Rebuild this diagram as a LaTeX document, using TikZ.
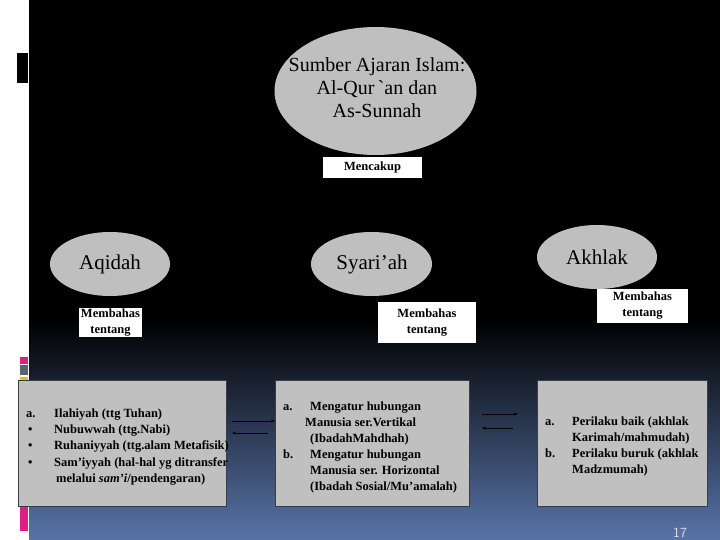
\documentclass[tikz,border=0pt]{standalone}
\usepackage{fontspec}
\setmainfont{Liberation Serif}
\usetikzlibrary{shapes.geometric,arrows.meta}
\definecolor{bluebot}{RGB}{88,116,168}
\definecolor{elgray}{RGB}{191,191,191}
\definecolor{boxgray}{RGB}{192,192,192}
\definecolor{mag}{RGB}{222,30,128}
\definecolor{slate}{RGB}{92,98,112}
\definecolor{gold}{RGB}{232,182,44}
\tikzset{
  oval/.style={ellipse,fill=elgray,draw=none,inner sep=0pt},
  ovaltext/.style={inner sep=0pt,align=center,font=\fontsize{21}{23}\selectfont},
  tag/.style={fill=white,draw=none,inner sep=0pt},
  tagtext/.style={inner sep=0pt,align=center,font=\bfseries\fontsize{12.5}{16}\selectfont},
  panel/.style={fill=boxgray,draw={rgb,255:red,60;green,60;blue,70},line width=0.8pt,inner sep=0pt},
  itm/.style={anchor=base west,inner sep=0pt,font=\bfseries\fontsize{12.5}{14}\selectfont},
  link/.style={-{Stealth[length=4pt,width=3pt]},line width=0.6pt,black}
}
\begin{document}
\begin{tikzpicture}[x=1pt,y=-1pt]
\useasboundingbox (0,0) rectangle (720,540);
% background
\fill[black] (29,0) rectangle (720,322);
\shade[top color=black,bottom color=bluebot] (29,320) rectangle (720,540);
\fill[white] (0,0) rectangle (29,540);
\fill[black] (17,53) rectangle (28,83);
\fill[mag] (20,357) rectangle (28,364);
\fill[slate] (20,365) rectangle (28,375);
\fill[gold] (20,377) rectangle (28,382);
\fill[mag] (20,507) rectangle (28,531);
% top ellipse
\node[oval,minimum width=202,minimum height=128] (src) at (375.5,91) {};
\node[ovaltext,font=\fontsize{20}{23}\selectfont] (srct) at (377,88) {Sumber Ajaran Islam:\\Al-Qur\,\textasciigrave an dan\\As-Sunnah};
\node[tag,minimum width=99,minimum height=21] (inc) at (372.5,167.5) {};
\node[tagtext] (inct) at (inc) {Mencakup};
% second level
\node[oval,minimum width=120,minimum height=64] (aq) at (110,264) {};
\node[ovaltext] (aqt) at (110,264) {Aqidah};
\node[oval,minimum width=121,minimum height=64] (sy) at (371.5,264) {};
\node[ovaltext] (syt) at (372,264) {Syari’ah};
\node[oval,minimum width=120,minimum height=64] (ak) at (597,257) {};
\node[ovaltext] (akt) at (597,257) {Akhlak};
\node[tag,minimum width=63,minimum height=29] (maq) at (110.5,322) {};
\node[tagtext] (maqt) at (110.5,323) {Membahas\\tentang};
\node[tag,minimum width=98,minimum height=41] (msy) at (427,322.5) {};
\node[tagtext] (msyt) at (msy) {Membahas\\tentang};
\node[tag,minimum width=91,minimum height=34] (mak) at (642.5,306) {};
\node[tagtext] (makt) at (mak) {Membahas\\tentang};
% bottom boxes
\node[panel,minimum width=208,minimum height=126] (bl) at (122,443) {};
\node[panel,minimum width=194,minimum height=126] (bm) at (372,443) {};
\node[panel,minimum width=170,minimum height=126] (br) at (622,443) {};
% left box text
\node[itm] (l1a) at (26,417) {a.};
\node[itm] (l1) at (54,417) {Ilahiyah (ttg Tuhan)};
\node[itm] (l2a) at (28,433) {•};
\node[itm] (l2) at (54,433) {Nubuwwah (ttg.Nabi)};
\node[itm] (l3a) at (28,449) {•};
\node[itm] (l3) at (54,449) {Ruhaniyyah (ttg.alam Metafisik)};
\node[itm] (l4a) at (28,466) {•};
\node[itm] (l4) at (54,466) {Sam’iyyah (hal-hal yg ditransfer};
\node[itm] (l5) at (56,482) {melalui \textit{sam’i}/pendengaran)};
% middle box text
\node[itm] (m1a) at (283,410) {a.};
\node[itm] (m1) at (310,410) {Mengatur hubungan};
\node[itm] (m2) at (305,426) {Manusia ser.Vertikal};
\node[itm] (m3) at (310,442) {(IbadahMahdhah)};
\node[itm] (m4a) at (283,458) {b.};
\node[itm] (m4) at (310,458) {Mengatur hubungan};
\node[itm] (m5) at (310,474) {Manusia ser. Horizontal};
\node[itm] (m6) at (310,490) {(Ibadah Sosial/Mu’amalah)};
% right box text
\node[itm] (r1a) at (545,425) {a.};
\node[itm] (r1) at (572,425) {Perilaku baik (akhlak};
\node[itm] (r2) at (572,441) {Karimah/mahmudah)};
\node[itm] (r3a) at (545,457) {b.};
\node[itm] (r3) at (572,457) {Perilaku buruk (akhlak};
\node[itm] (r4) at (572,473) {Madzmumah)};
% arrows
\coordinate (a1s) at (232,421); \coordinate (a1e) at (275,421);
\coordinate (a2s) at (268,433); \coordinate (a2e) at (232,433);
\coordinate (a3s) at (482,414); \coordinate (a3e) at (518,414);
\coordinate (a4s) at (513,428); \coordinate (a4e) at (482,428);
\draw[link] (a1s) -- (a1e);
\draw[link] (a2s) -- (a2e);
\draw[link] (a3s) -- (a3e);
\draw[link] (a4s) -- (a4e);
% page number
\node[anchor=base,inner sep=0pt,text={rgb,255:red,220;green,225;blue,235},font=\sffamily\fontsize{14}{16}\selectfont] (pg) at (680,537) {17};
\end{tikzpicture}
\end{document}
